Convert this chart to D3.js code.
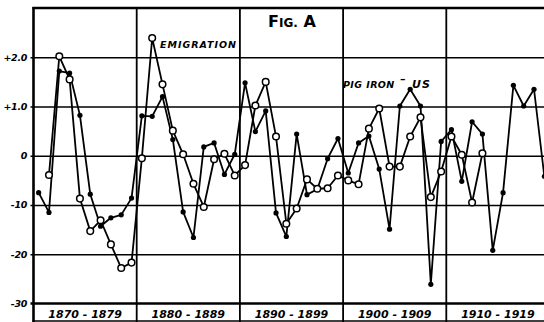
<!DOCTYPE html>
<html>
<head>
<meta charset="utf-8">
<script src="https://cdn.jsdelivr.net/npm/d3@7"></script>
<style>
  html, body { margin: 0; padding: 0; background: #fff; }
  svg { display: block; }
  text { fill: #000; }
</style>
</head>
<body>
<svg id="chart" width="544" height="322"></svg>
<script>
// Yearly deviations from trend, 1870-1919
const pigIronYears = d3.range(1870, 1920);
const pigIron = [
  -0.75, -1.15, 1.72, 1.68, 0.82, -0.78, -1.43, -1.26, -1.20, -0.86,
   0.81,  0.80, 1.20, 0.33, -1.14, -1.66, 0.18, 0.26, -0.38, 0.03,
   1.48,  0.49, 0.91, -1.16, -1.64, 0.44, -0.79, -0.68, -0.06, 0.35,
  -0.35,  0.26, 0.40, -0.27, -1.49, 1.01, 1.35, 1.01, -2.61, 0.29,
   0.53, -0.52, 0.69, 0.44, -1.92, -0.75, 1.43, 1.01, 1.35, -0.42
];

const emigrationYears = d3.range(1871, 1914);
const emigration = [
         -0.39, 2.02, 1.55, -0.87, -1.53, -1.31, -1.80, -2.28, -2.17,
  -0.05,  2.39, 1.45, 0.51, 0.03, -0.57, -1.04, -0.07, 0.04, -0.40,
  -0.19,  1.02, 1.50, 0.39, -1.38, -1.07, -0.48, -0.67, -0.66, -0.40,
  -0.50, -0.58, 0.55, 0.96, -0.22, -0.22, 0.39, 0.78, -0.84, -0.32,
   0.39,  0.02, -0.95, 0.05
];

const yTicks = [2, 1, 0, -1, -2, -3];
const yTickLabels = ["+2.0", "+1.0", "0", "-10", "-20", "-30"];
const decades = [1870, 1880, 1890, 1900, 1910];
const decadeLabels = ["1870 - 1879", "1880 - 1889", "1890 - 1899", "1900 - 1909", "1910 - 1919"];

const svg = d3.select("#chart");

const x = d3.scaleLinear().domain([1870, 1920]).range([33.5, 549.5]);
const y = d3.scaleLinear().domain([-3, 3]).range([303.5, 8]);
const xc = yr => x(yr + 0.5);

const hand = "'DejaVu Sans', sans-serif";

// horizontal rules with short ticks out to the left
const grid = svg.append("g")
  .attr("transform", `translate(${x(1870)},0)`)
  .call(d3.axisLeft(y).tickValues([2, 1, 0, -1, -2])
    .tickSize(0).tickFormat(""))
  .call(g => g.select(".domain").remove());
grid.selectAll(".tick line")
  .attr("x1", -3)
  .attr("x2", x(1920) - x(1870) + 4)
  .attr("stroke", "#000").attr("stroke-width", 1.7);

// heavy top, -3.0 and bottom rules
svg.append("line").attr("x1", x(1870) - 1).attr("x2", 548)
  .attr("y1", y(3)).attr("y2", y(3)).attr("stroke", "#000").attr("stroke-width", 2.4);
svg.append("line").attr("x1", x(1870) - 3).attr("x2", 548)
  .attr("y1", y(-3)).attr("y2", y(-3)).attr("stroke", "#000").attr("stroke-width", 2.4);
svg.append("line").attr("x1", x(1870) - 1).attr("x2", 548)
  .attr("y1", 321).attr("y2", 321).attr("stroke", "#000").attr("stroke-width", 1.5);

// decade divisions
svg.append("g").selectAll("line")
  .data(decades.concat([1920]))
  .join("line")
  .attr("x1", d => x(d)).attr("x2", d => x(d))
  .attr("y1", y(3) - 1).attr("y2", 322)
  .attr("stroke", "#000")
  .attr("stroke-width", (d, i) => i === 0 ? 2.6 : 1.8);

// y labels
svg.append("g").selectAll("text")
  .data(yTicks)
  .join("text")
  .attr("x", 27)
  .attr("y", d => y(d))
  .attr("dy", "0.36em")
  .attr("text-anchor", "end")
  .attr("font-family", hand)
  .attr("font-weight", "bold")
  .attr("font-style", "italic")
  .attr("font-size", 9.5)
  .attr("letter-spacing", -0.3)
  .text((d, i) => yTickLabels[i]);

// decade labels
svg.append("g").selectAll("text")
  .data(decades)
  .join("text")
  .attr("x", d => x(d + 5))
  .attr("y", 318)
  .attr("text-anchor", "middle")
  .attr("font-family", hand)
  .attr("font-weight", "bold")
  .attr("font-style", "italic")
  .attr("font-size", 11)
  .text((d, i) => decadeLabels[i]);

// series lines
const line = d3.line().x(d => xc(d[0])).y(d => y(d[1]));
const pigPts = pigIronYears.map((yr, i) => [yr, pigIron[i]]);
const emiPts = emigrationYears.map((yr, i) => [yr, emigration[i]]);

svg.append("path").datum(pigPts).attr("d", line)
  .attr("fill", "none").attr("stroke", "#000").attr("stroke-width", 1.8)
  .attr("stroke-linejoin", "round");
svg.append("path").datum(emiPts).attr("d", line)
  .attr("fill", "none").attr("stroke", "#000").attr("stroke-width", 1.8)
  .attr("stroke-linejoin", "round");

svg.append("g").selectAll("circle")
  .data(pigPts).join("circle")
  .attr("cx", d => xc(d[0])).attr("cy", d => y(d[1]))
  .attr("r", 2.6).attr("fill", "#000");

svg.append("g").selectAll("circle")
  .data(emiPts).join("circle")
  .attr("cx", d => xc(d[0])).attr("cy", d => y(d[1]))
  .attr("r", 3.3).attr("fill", "#fff")
  .attr("stroke", "#000").attr("stroke-width", 1.5);

// title
const title = svg.append("text")
  .attr("x", 268).attr("y", 27)
  .attr("font-family", hand)
  .attr("font-weight", "bold");
title.append("tspan").attr("font-size", 16).text("F");
title.append("tspan").attr("font-size", 12).text("IG.");
title.append("tspan").attr("font-size", 16).text(" A");

// series names
svg.append("text")
  .attr("x", 160).attr("y", 48)
  .attr("font-family", hand).attr("font-weight", "bold").attr("font-style", "italic")
  .attr("font-size", 9.5).attr("letter-spacing", 1)
  .text("EMIGRATION");

svg.append("text")
  .attr("x", 343).attr("y", 88)
  .attr("font-family", hand).attr("font-weight", "bold").attr("font-style", "italic")
  .attr("font-size", 9.5).attr("letter-spacing", 0.4)
  .text("PIG IRON");
svg.append("text")
  .attr("x", 400).attr("y", 83)
  .attr("font-family", hand).attr("font-weight", "bold")
  .attr("font-size", 11)
  .text("–");
svg.append("text")
  .attr("x", 412).attr("y", 88)
  .attr("font-family", hand).attr("font-weight", "bold").attr("font-style", "italic")
  .attr("font-size", 11).attr("letter-spacing", 1)
  .text("US");
</script>
</body>
</html>
